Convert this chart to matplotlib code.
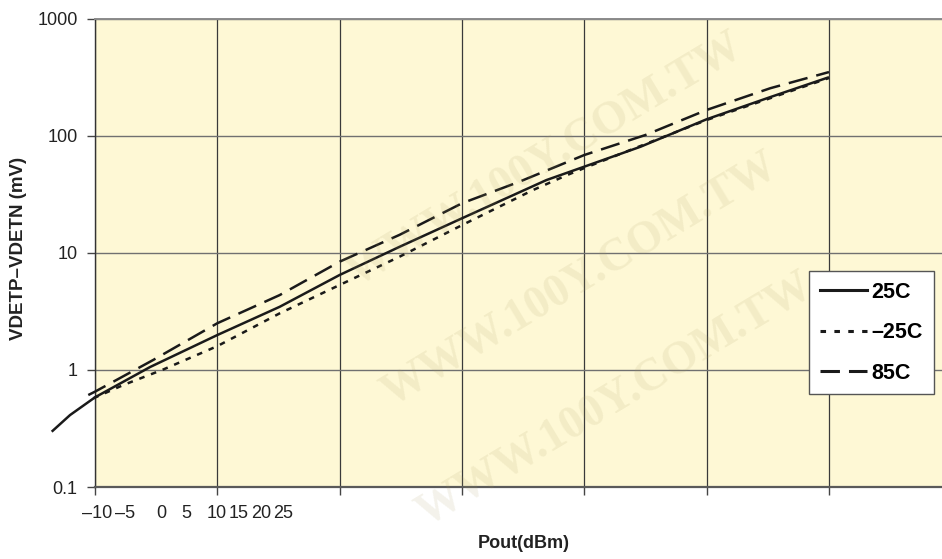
import matplotlib

matplotlib.use("Agg")
import matplotlib.pyplot as plt
import matplotlib.transforms as mtransforms
from matplotlib.lines import Line2D

# position along the Pout axis, in gridline units (gridlines at 0..7)
x_25c = [-0.354, -0.204, 0.0, 0.45, 1.0, 1.51, 2.0, 2.49, 3.0, 3.69, 4.0, 4.46, 5.0, 5.52, 6.0]
v_25c = [0.297, 0.412, 0.584, 1.06, 1.99, 3.47, 6.49, 11.3, 19.8, 42.0, 54.7, 81.0, 139, 215, 318]

x_m25c = [-0.014, 0.231, 0.558, 1.0, 1.51, 2.0, 2.49, 3.0, 3.58, 3.86, 4.0, 5.0, 6.0]
v_m25c = [0.573, 0.744, 1.01, 1.60, 3.05, 5.33, 9.30, 17.3, 34.5, 46.4, 53.2, 137, 313]

x_85c = [-0.055, 0.0, 0.477, 1.0, 1.51, 2.0, 2.49, 3.0, 3.47, 4.0, 4.5, 5.0, 5.52, 6.0]
v_85c = [0.611, 0.653, 1.22, 2.51, 4.37, 8.43, 14.3, 26.6, 40.7, 68.8, 102, 167, 256, 352]

series_labels = ["25C", "\u201325C", "85C"]

y_ticks = [0.1, 1, 10, 100, 1000]
y_tick_labels = ["0.1", "1", "10", "100", "1000"]

# the original x labels sit bunched up near the left end
x_tick_labels = ["\u201310", "\u20135", "0", "5", "10", "15", "20", "25"]
x_tick_label_pos = [0.016, 0.245, 0.54, 0.744, 0.997, 1.177, 1.357, 1.537]

watermark = "WWW.100Y.COM.TW"
watermark_pos = [(545, 160), (580, 280), (615, 400)]

W, H = 942, 559
plt.rcParams["font.family"] = ["Liberation Sans", "DejaVu Sans"]
plt.rcParams["lines.scale_dashes"] = False

fig = plt.figure(figsize=(W / 100, H / 100), dpi=100)
fig.patch.set_facecolor("white")
ax = fig.add_axes([95 / W, (H - 487) / H, (W - 95) / W, 468 / H])
ax.set_facecolor("#FEF8D5")

ax.set_yscale("log")
ax.set_yticks(y_ticks)
ax.set_yticklabels(y_tick_labels)
ax.yaxis.set_minor_locator(matplotlib.ticker.NullLocator())
ax.set_xticks(range(8))
ax.set_xticklabels([""] * 8)
ax.set_ylim(0.1, 1000)
ax.set_xlim(0, (W - 95) / 122.33)
ax.tick_params(axis="both", length=6, width=1.0, color="#444444", labelsize=13, labelcolor="#222222")
ax.tick_params(axis="y", pad=6.5)

ax.xaxis.grid(True, color="#3a3a3a", linewidth=0.9)
ax.yaxis.grid(True, color="#707070", linewidth=1.0)
ax.set_axisbelow(True)

ax.spines["right"].set_visible(False)
ax.spines["left"].set_color("#333333")
ax.spines["left"].set_linewidth(1.0)
ax.spines["bottom"].set_color("#5a5a5a")
ax.spines["bottom"].set_linewidth(1.6)
ax.spines["top"].set_color("#8a8a8a")
ax.spines["top"].set_linewidth(1.4)

ink = "#1a1a1a"
ax.plot(x_25c, v_25c, color=ink, lw=1.8, solid_capstyle="butt", clip_on=False, zorder=4)
ax.plot(x_m25c, v_m25c, color=ink, lw=1.8, dashes=(4, 5), clip_on=False, zorder=4)
ax.plot(x_85c, v_85c, color=ink, lw=1.8, dashes=(14, 6.5), clip_on=False, zorder=4)

trans = mtransforms.blended_transform_factory(ax.transData, ax.transAxes)
for pos, lab in zip(x_tick_label_pos, x_tick_labels):
    ax.text(pos, -26 / 468, lab, transform=trans, ha="center", va="center", fontsize=13, color="#222222")

fig.text(524 / W, 1 - 543 / H, "Pout(dBm)", ha="center", va="center", fontsize=13, fontweight="bold", color="#222222")
fig.text(19 / W, 1 - 248 / H, "VDETP\u2013VDETN (mV)", ha="center", va="center", rotation=90,
         fontsize=13.5, fontweight="bold", color="#222222")

handles = [
    Line2D([0], [0], color=ink, lw=2.2),
    Line2D([0], [0], color=ink, lw=2.2, dashes=(4, 6)),
    Line2D([0], [0], color=ink, lw=2.2, dashes=(14, 6.5)),
]
leg = fig.legend(handles, series_labels, loc="upper left", bbox_to_anchor=(809 / W, 1 - 271 / H),
                 borderaxespad=0, frameon=True, fancybox=False, handlelength=2.2, handletextpad=0.2,
                 labelspacing=0.9, borderpad=0.5, prop={"size": 15.5, "weight": "bold"})
leg.get_frame().set_edgecolor("#555555")
leg.get_frame().set_linewidth(1.0)
leg.get_frame().set_facecolor("white")
leg.get_frame().set_alpha(1.0)
leg.set_zorder(5)

for cx, cy in watermark_pos:
    fig.text(cx / W, 1 - cy / H, watermark, ha="center", va="center", rotation=31,
             family=["Liberation Serif", "DejaVu Serif"], fontsize=33, fontweight="bold",
             color="#a89a60", alpha=0.13, zorder=10)

fig.savefig("out.png", dpi=100)
